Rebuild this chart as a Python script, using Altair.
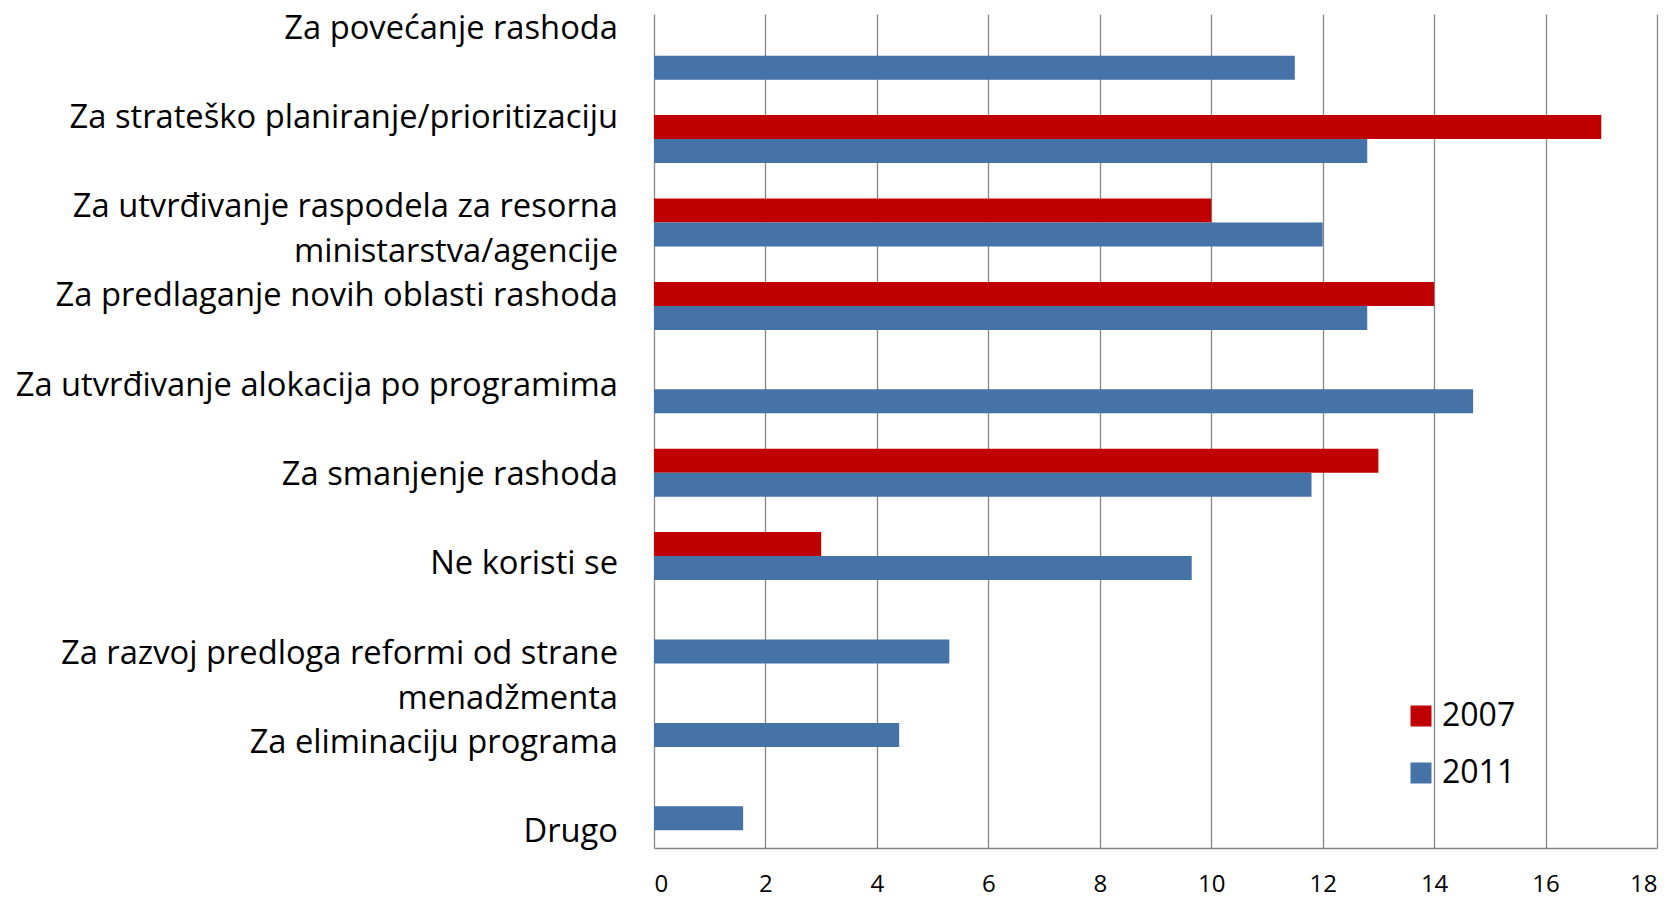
import altair as alt
import pandas as pd

categories = [
    "Za povećanje rashoda",
    "Za strateško planiranje/prioritizaciju",
    "Za utvrđivanje raspodela za resorna ministarstva/agencije",
    "Za predlaganje novih oblasti rashoda",
    "Za utvrđivanje alokacija po programima",
    "Za smanjenje rashoda",
    "Ne koristi se",
    "Za razvoj predloga reformi od strane menadžmenta",
    "Za eliminaciju programa",
    "Drugo",
]
label_lines = [
    ["Za povećanje rashoda"],
    ["Za strateško planiranje/prioritizaciju"],
    ["Za utvrđivanje raspodela za resorna", "ministarstva/agencije"],
    ["Za predlaganje novih oblasti rashoda"],
    ["Za utvrđivanje alokacija po programima"],
    ["Za smanjenje rashoda"],
    ["Ne koristi se"],
    ["Za razvoj predloga reformi od strane", "menadžmenta"],
    ["Za eliminaciju programa"],
    ["Drugo"],
]
years = ["2007", "2011"]
values_2007 = [None, 17, 10, 14, None, 13, 3, None, None, None]
values_2011 = [11.5, 12.8, 12, 12.8, 14.7, 11.8, 9.65, 5.3, 4.4, 1.6]
x_ticks = [0, 2, 4, 6, 8, 10, 12, 14, 16, 18]
colors = ["#C00000", "#4572A7"]

rows = []
for cat, v07, v11 in zip(categories, values_2007, values_2011):
    if v07 is not None:
        rows.append({"category": cat, "year": "2007", "value": v07})
    if v11 is not None:
        rows.append({"category": cat, "year": "2011", "value": v11})
bars_df = pd.DataFrame(rows)

labels_df = pd.DataFrame(
    {"idx": list(range(len(label_lines))), "text": ["\n".join(l) for l in label_lines]}
)

FONT = "Open Sans"

x_enc = alt.X(
    "value:Q",
    scale=alt.Scale(domain=[0, 18], nice=False),
    axis=alt.Axis(
        values=x_ticks,
        format="d",
        grid=True,
        gridColor="#868686",
        gridWidth=1.3,
        domainColor="#868686",
        domainWidth=1.5,
        ticks=False,
        labelFont=FONT,
        labelFontSize=24,
        labelColor="black",
        labelPadding=24,
        title=None,
    ),
)

bars = alt.Chart(bars_df).mark_bar().encode(
    x=x_enc,
    y=alt.Y(
        "category:N",
        sort=categories,
        scale=alt.Scale(domain=categories, paddingInner=0.425, paddingOuter=0.2125),
        axis=None,
    ),
    yOffset=alt.YOffset("year:N", scale=alt.Scale(domain=years, paddingInner=0, paddingOuter=0)),
    color=alt.Color(
        "year:N",
        scale=alt.Scale(domain=years, range=colors),
        legend=alt.Legend(
            orient="none",
            legendX=751,
            legendY=686,
            title=None,
            symbolType="square",
            symbolSize=441,
            symbolStrokeWidth=0,
            symbolOpacity=1,
            labelFont=FONT,
            labelFontSize=32,
            labelColor="black",
            rowPadding=25,
            labelOffset=5,
            padding=0,
        ),
    ),
)

labels = alt.Chart(labels_df).mark_text(
    align="right",
    baseline="middle",
    dx=-36,
    font=FONT,
    fontSize=32.7,
    lineBreak="\n",
    lineHeight=45,
    color="black",
).encode(
    x=alt.datum(0),
    y=alt.Y(
        "idx:Q",
        scale=alt.Scale(domain=[-0.165, 9.179], nice=False, zero=False, reverse=True),
        axis=None,
    ),
    text="text:N",
)

chart = (
    alt.layer(bars, labels)
    .resolve_scale(y="independent")
    .properties(
        width=1003,
        height=834,
        autosize=alt.AutoSizeParams(type="none"),
        padding={"left": 646, "top": 6, "right": 12, "bottom": 49},
    )
    .configure_view(stroke=None)
)

chart.save("out.html", embed_options={"renderer": "svg", "actions": False})
